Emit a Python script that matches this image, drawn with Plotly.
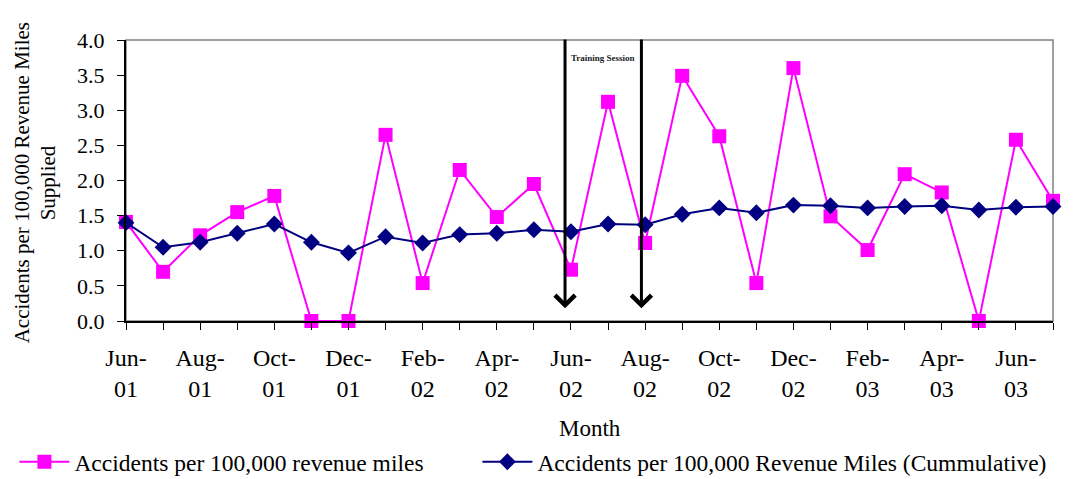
import plotly.graph_objects as go

months = ["Jun-01", "Jul-01", "Aug-01", "Sep-01", "Oct-01", "Nov-01", "Dec-01",
          "Jan-02", "Feb-02", "Mar-02", "Apr-02", "May-02", "Jun-02", "Jul-02",
          "Aug-02", "Sep-02", "Oct-02", "Nov-02", "Dec-02", "Jan-03", "Feb-03",
          "Mar-03", "Apr-03", "May-03", "Jun-03", "Jul-03"]
monthly = [1.41, 0.70, 1.22, 1.55, 1.78, 0.0, 0.0, 2.65, 0.54, 2.15, 1.48, 1.95,
           0.73, 3.12, 1.11, 3.49, 2.63, 0.54, 3.60, 1.49, 1.01, 2.09, 1.83, 0.0,
           2.58, 1.71]
cumulative = [1.40, 1.05, 1.12, 1.25, 1.38, 1.12, 0.97, 1.20, 1.11, 1.23, 1.25, 1.30,
              1.27, 1.38, 1.37, 1.52, 1.61, 1.54, 1.65, 1.64, 1.61, 1.63, 1.64, 1.58,
              1.62, 1.63]
y_ticks = [0.0, 0.5, 1.0, 1.5, 2.0, 2.5, 3.0, 3.5, 4.0]
training_marks = [11.84, 13.9]   # positions (in month index) of the two arrows

idx = list(range(len(months)))
tick_text = [m.replace("-", "-<br>") if i % 2 == 0 else "" for i, m in enumerate(months)]

FONT = "Liberation Serif, Times New Roman, serif"

# page body has an 8px margin, so the figure is drawn 8px smaller
W, H = 1068, 471
ml, mr, mt, mb = 118, 23, 32, 158
pw = W - ml - mr
ph = H - mt - mb

fig = go.Figure()
fig.add_trace(go.Scatter(
    x=idx, y=monthly, mode="lines+markers",
    name="Accidents per 100,000 revenue miles",
    line=dict(color="#FF00FF", width=2),
    marker=dict(symbol="square", size=14, color="#FF00FF"),
    cliponaxis=False, legend="legend",
))
fig.add_trace(go.Scatter(
    x=idx, y=cumulative, mode="lines+markers",
    name="Accidents per 100,000 Revenue Miles (Cummulative)",
    line=dict(color="#000080", width=2),
    marker=dict(symbol="diamond", size=13, color="#000080"),
    cliponaxis=False, legend="legend2",
))

for xm in training_marks:
    fig.add_annotation(
        x=xm, y=0.18, ax=xm, ay=4.03, xref="x", yref="y", axref="x", ayref="y",
        text="", showarrow=True, arrowhead=4, arrowsize=1.3, arrowwidth=3,
        arrowcolor="black",
    )
fig.add_annotation(
    x=(training_marks[0] + training_marks[1]) / 2, y=3.74, xref="x", yref="y",
    text="<b>Training Session</b>", showarrow=False,
    font=dict(family=FONT, size=9, color="#222222"),
)

# y-axis title as two lines
fig.add_annotation(
    x=(14 - ml) / pw, y=0.49, xref="paper", yref="paper",
    text="Accidents per 100,000 Revenue Miles", xanchor="center", yanchor="middle",
    textangle=-90, showarrow=False, font=dict(family=FONT, size=21, color="black"),
)
fig.add_annotation(
    x=(40 - ml) / pw, y=0.49, xref="paper", yref="paper", text="Supplied",
    xanchor="center", yanchor="middle",
    textangle=-90, showarrow=False, font=dict(family=FONT, size=21, color="black"),
)
# x-axis title
fig.add_annotation(
    x=0.5, y=-(420 - (mt + ph)) / ph, xref="paper", yref="paper", text="Month",
    xanchor="center", yanchor="middle", showarrow=False,
    font=dict(family=FONT, size=23, color="black"),
)

# frame: gray top/right
fig.add_shape(type="rect", xref="paper", yref="paper", x0=0, y0=0, x1=1, y1=1,
              line=dict(color="#808080", width=1.5), layer="below")

legend_common = dict(orientation="h", xref="container", yref="container",
                     y=17 / H, xanchor="left", yanchor="middle",
                     font=dict(family=FONT, size=23.5), itemwidth=50,
                     bgcolor="rgba(0,0,0,0)")

fig.update_layout(
    width=W, height=H,
    margin=dict(l=ml, r=mr, t=mt, b=mb, autoexpand=False),
    paper_bgcolor="white", plot_bgcolor="white",
    font=dict(family=FONT, color="black"),
    showlegend=True,
    legend=dict(x=6.4 / W, **legend_common),
    legend2=dict(x=469.4 / W, **legend_common),
    xaxis=dict(
        range=[0, len(months) - 1], tickmode="array", tickvals=idx, ticktext=tick_text,
        ticks="outside", ticklen=7, tickcolor="black", tickwidth=1,
        showline=True, linecolor="black", linewidth=2, showgrid=False, zeroline=False,
        tickfont=dict(family=FONT, size=24), ticklabelstandoff=7, automargin=False,
    ),
    yaxis=dict(
        range=[0, 4], tickmode="array", tickvals=y_ticks,
        ticktext=[f"{v:.1f}" for v in y_ticks],
        ticks="outside", ticklen=7, tickcolor="black", tickwidth=1,
        showline=True, linecolor="black", linewidth=2, showgrid=False, zeroline=False,
        tickfont=dict(family=FONT, size=22), ticklabelstandoff=8, automargin=False,
    ),
)

fig.write_html("out.html")
